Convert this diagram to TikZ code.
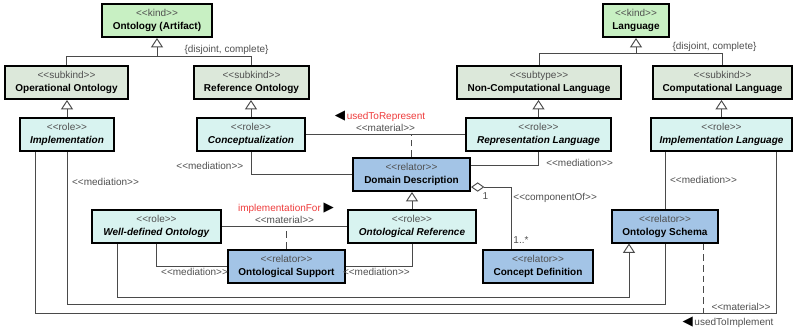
\documentclass[tikz,border=0pt]{standalone}
\usepackage{fontspec}
\setmainfont{Liberation Sans}
\newfontfamily\symfont{DejaVu Sans}
\usetikzlibrary{arrows.meta,positioning}

\definecolor{kindFill}{HTML}{C8F0C3}
\definecolor{subFill}{HTML}{DCE8DA}
\definecolor{roleFill}{HTML}{D8F3F0}
\definecolor{relFill}{HTML}{A3C4E6}
\definecolor{lineGray}{HTML}{4A4A4A}
\definecolor{textMuted}{HTML}{505050}
\definecolor{relRed}{HTML}{EE3B3B}

\newcommand{\stereo}[1]{{\color{textMuted}<\kern0pt<#1>\kern0pt>}}
\newcommand{\dirmark}[1]{{\color{black}\symfont\fontsize{10}{10}\selectfont #1}}

\begin{document}
\begin{tikzpicture}[
    x=0.75pt, y=-0.75pt,
    font=\fontsize{7.5}{9.75}\selectfont,
    umlBox/.style={
        rectangle, draw=black, line width=1.5pt,
        minimum height=24.75pt, inner sep=1pt,
        align=center
    },
    kindBox/.style={umlBox, fill=kindFill},
    subBox/.style={umlBox, fill=subFill},
    roleBox/.style={umlBox, fill=roleFill},
    relBox/.style={umlBox, fill=relFill},
    conn/.style={draw=lineGray, line width=0.7pt},
    gen/.style={conn, -{Triangle[open, fill=white, length=7pt, width=9pt]}},
    part/.style={conn, {Diamond[open, fill=white, length=10pt, width=7pt]}-},
    relLink/.style={conn, dash pattern=on 5pt off 3pt},
    lbl/.style={text=textMuted, inner sep=1.5pt},
    relName/.style={text=relRed, inner sep=1pt}
]
\useasboundingbox (0,0) rectangle (794,333);

% kinds and their disjoint, complete partitions
\node[kindBox, minimum width=82.5pt] (Artifact) at (157,20.5) {\stereo{kind}\\\textbf{Ontology (Artifact)}};
\node[kindBox, minimum width=49.5pt] (Language) at (636,20.5) {\stereo{kind}\\\textbf{Language}};
\node[subBox, minimum width=92.25pt] (OpOnt) at (66.5,82.5) {\stereo{subkind}\\\textbf{Operational Ontology}};
\node[subBox, minimum width=86.25pt] (RefOnt) at (251.5,82.5) {\stereo{subkind}\\\textbf{Reference Ontology}};
\node[subBox, minimum width=123pt] (NonComp) at (539,82.5) {\stereo{subtype}\\\textbf{Non-Computational Language}};
\node[subBox, minimum width=104.25pt] (CompLang) at (722.5,82.5) {\stereo{subkind}\\\textbf{Computational Language}};

% roles
\node[roleBox, minimum width=70.5pt] (Impl) at (67,134.5) {\stereo{role}\\\textbf{\textit{Implementation}}};
\node[roleBox, minimum width=81pt] (Concept) at (251,134.5) {\stereo{role}\\\textbf{\textit{Conceptualization}}};
\node[roleBox, minimum width=108.75pt] (RepLang) at (538.5,134.5) {\stereo{role}\\\textbf{\textit{Representation Language}}};
\node[roleBox, minimum width=105.75pt] (ImplLang) at (721.5,134.5) {\stereo{role}\\\textbf{\textit{Implementation Language}}};
\node[roleBox, minimum width=96.75pt] (WellDef) at (156.5,226) {\stereo{role}\\\textbf{\textit{Well-defined Ontology}}};
\node[roleBox, minimum width=96pt] (OntRef) at (412,226) {\stereo{role}\\\textbf{\textit{Ontological Reference}}};

% relators
\node[relBox, minimum width=87.75pt] (Domain) at (411.5,174.5) {\stereo{relator}\\\textbf{Domain Description}};
\node[relBox, minimum width=87.75pt] (OntSup) at (286.5,266) {\stereo{relator}\\\textbf{Ontological Support}};
\node[relBox, minimum width=82.5pt] (ConDef) at (538,266) {\stereo{relator}\\\textbf{Concept Definition}};
\node[relBox, minimum width=79.5pt] (Schema) at (665,226) {\stereo{relator}\\\textbf{Ontology Schema}};

\coordinate (ArtBar) at (157,56);
\coordinate (LangBar) at (636,53);
\coordinate (GenLow) at (0,297);
\coordinate (MedLow) at (0,304);
\coordinate (MatLow) at (0,313);
\coordinate (ImplL) at ([xshift=-24pt]Impl.south);
\coordinate (ImplLangR) at ([xshift=40.9pt]ImplLang.south);
\coordinate (WellL) at ([xshift=-29.6pt]WellDef.south);
\coordinate (SchemaL) at ([xshift=-27pt]Schema.south);
\coordinate (SchemaR) at ([xshift=28.5pt]Schema.south);

% generalizations
\draw[gen] (OpOnt.north) |- (ArtBar) -- (Artifact.south);
\draw[conn] (RefOnt.north) |- (ArtBar);
\draw[gen] (NonComp.north) |- (LangBar) -- (Language.south);
\draw[conn] (CompLang.north) |- (LangBar);
\node[lbl] (DisjArt) at (226.5,50) {\{disjoint, complete\}};
\node[lbl] (DisjLang) at (714.5,46.5) {\{disjoint, complete\}};

\draw[gen] (Impl.north) -- (Impl.north |- OpOnt.south);
\draw[gen] (Concept.north) -- (Concept.north |- RefOnt.south);
\draw[gen] (RepLang.north) -- (RepLang.north |- NonComp.south);
\draw[gen] (ImplLang.north) -- (ImplLang.north |- CompLang.south);
\draw[gen] (OntRef.north) -- (OntRef.north |- Domain.south);
\draw[gen] (WellL) |- (SchemaL |- GenLow) -- (SchemaL);

% material relations and their relators
\draw[conn] (Concept.east) -- node[lbl, midway, above] (MatRep) {\stereo{material}} (Concept.east -| RepLang.west);
\draw[relLink] (Domain.north) -- (Domain.north |- Concept.east);
\node[relName] (UsedRep) at (380,116) {\dirmark{◀}\,usedToRepresent};

\draw[conn] (WellDef.east) -- node[lbl, midway, above] (MatImplFor) {\stereo{material}} (OntRef.west);
\draw[relLink] (OntSup.north) -- (OntSup.north |- WellDef.east);
\node[relName] (ImplFor) at (286,208) {implementationFor \dirmark{▶}};

\draw[conn] (ImplL) |- (ImplLangR |- MatLow) -- (ImplLangR);
\draw[relLink] (SchemaR) -- (SchemaR |- MatLow);
\node[lbl] (MatUsed) at (741,307) {\stereo{material}};
\node[lbl, inner sep=1pt] (UsedImpl) at (728,322) {\dirmark{◀}\,usedToImplement};

% mediations
\draw[conn] (Concept.south) |- node[lbl, pos=0.3, left=4pt] (MedCon) {\stereo{mediation}} (Domain.west);
\draw[conn] (RepLang.south) |- node[lbl, pos=0.43, right=4pt] (MedRep) {\stereo{mediation}} ([yshift=7pt]Domain.east);
\draw[conn] (Impl.south) |- node[lbl, pos=0.1, right=2pt] (MedImpl) {\stereo{mediation}} (Schema.south |- MedLow) -- (Schema.south);
\draw[conn] (Schema.north |- ImplLang.south) -- node[lbl, midway, right=2pt] (MedSch) {\stereo{mediation}} (Schema.north);
\draw[conn] (WellDef.south) |- node[lbl, pos=0.77, below] (MedWell) {\stereo{mediation}} (OntSup.west);
\draw[conn] (OntRef.south) |- node[lbl, pos=0.77, below] (MedRef) {\stereo{mediation}} (OntSup.east);

% parthood
\draw[part] ([yshift=-9.4pt]Domain.east) -| node[lbl, pos=0.18, below=2pt] (CompOne) {1}
  node[lbl, pos=0.59, right] (CompOf) {\stereo{componentOf}}
  node[lbl, pos=0.93, right] (CompMany) {1..*} ([xshift=-20.25pt]ConDef.north);

\end{tikzpicture}
\end{document}
